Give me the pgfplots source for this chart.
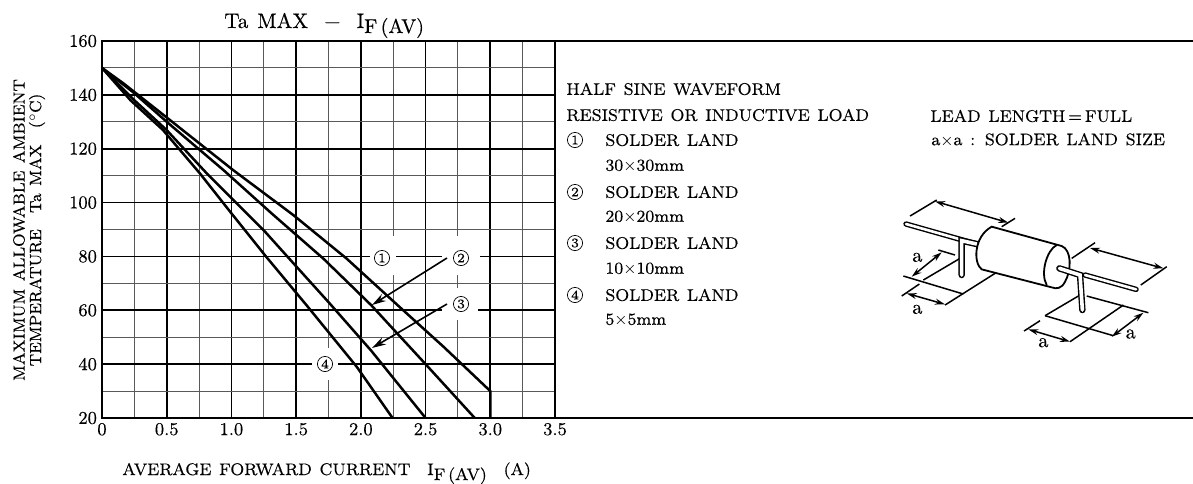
\documentclass[border=0pt]{standalone}
\usepackage{fontspec}
\usepackage{pgfplots}
\pgfplotsset{compat=1.18}
\usetikzlibrary{arrows.meta}
\setmainfont{Latin Modern Roman}[FakeBold=0.35]
\newfontfamily\mn{Latin Modern Roman}[WordSpace=1.3,FakeBold=0.35]
\newcommand{\tx}{\mn\fontsize{8.4}{10}\selectfont}
\newcommand{\ty}{\mn\fontsize{8.1}{10}\selectfont}
\newcommand{\cn}[1]{\tikz[baseline=(n.base)]\node[circle,draw,line width=0.35pt,inner sep=0pt,minimum size=7.6pt](n){\fontsize{6.5}{7}\selectfont #1};}
\begin{document}
\begin{tikzpicture}
\path[use as bounding box] (0,0) rectangle (596.5pt,-241.5pt);
\begin{axis}[
  at={(51pt,-209pt)}, anchor=south west, scale only axis,
  width=226.5pt, height=188.5pt,
  xmin=0, xmax=3.5, ymin=20, ymax=160,
  xtick={0,0.5,...,3.5}, ytick={20,40,...,160},
  xticklabels={0,0.5,1.0,1.5,2.0,2.5,3.0,3.5},
  minor x tick num=1, minor y tick num=1,
  grid=both,
  major grid style={black,line width=0.8pt},
  minor grid style={black!65,line width=0.55pt},
  axis line style={black,line width=1pt},
  tick style={draw=none}, minor tick style={draw=none},
  tick label style={font=\fontsize{9}{10}\selectfont},
  /pgf/number format/assume math mode=true,
  xticklabel style={yshift=1pt},
  yticklabel style={xshift=1pt},
  clip=false,
]
\addplot[black,line width=1.25pt] coordinates {(0,150)(0.165,144.3)(0.5,131.6)(1.015,112)(1.48,95.3)(1.89,79.2)(2.30,61.2)(2.64,46.4)(3.0,30)(3.0,20)};
\addplot[black,line width=1.25pt] coordinates {(0,150)(0.24,141)(0.5,130)(0.94,112)(1.31,96)(1.71,79.2)(2.08,61.9)(2.5,40)(2.88,20)};
\addplot[black,line width=1.25pt] coordinates {(0,150)(0.25,138)(0.5,126.9)(0.81,110.8)(1.25,89.7)(1.45,79)(1.76,62.5)(2.08,45)(2.5,20)};
\addplot[black,line width=1.25pt] coordinates {(0,150)(0.22,138)(0.47,127)(0.757,110.8)(0.99,96.6)(1.27,79.8)(1.58,61.9)(1.97,38.9)(2.245,20)};
\end{axis}
\begin{scope}[x=0.5pt,y=-0.5pt]
\draw[line width=1pt] (555,41)--(1193,41);
\draw[line width=1pt] (555,418)--(1193,418);
\node[anchor=base west,inner sep=0] at (224,28) {\mn\fontsize{10.5}{13}\selectfont Ta MAX\,\, −\,\, I\raisebox{-2.5pt}{\fontsize{10}{10}\selectfont F\,(AV)}};
\node[anchor=base west,inner sep=0] at (122,475) {\tx AVERAGE FORWARD CURRENT\quad I\raisebox{-2.5pt}{F\,(AV)}\quad (A)};
\node[rotate=90,inner sep=0] at (19,230) {\ty MAXIMUM ALLOWABLE AMBIENT};
\node[rotate=90,inner sep=0] at (37,230) {\ty TEMPERATURE\quad Ta MAX\quad ($^\circ$C)};
\fill[white] (370,236) rectangle (396,275);
\fill[white] (442,236) rectangle (480,275);
\fill[white] (442,288) rectangle (478,320);
\fill[white] (312,348) rectangle (338,380);
\node at (382,258) {\cn{1}};
\node at (461,258) {\cn{2}};
\node at (461,304) {\cn{3}};
\node at (325,364) {\cn{4}};
\draw[line width=0.8pt,-{Stealth[length=7pt,width=4pt]}] (447,258)--(372,305);
\draw[line width=0.8pt,-{Stealth[length=7pt,width=4pt]}] (447,304)--(372,348);
\foreach \y/\t in {89/HALF SINE WAVEFORM,115/RESISTIVE OR INDUCTIVE LOAD}
  \node[anchor=west,inner sep=0] at (566,\y) {\tx \t};
\foreach \y/\c in {140/1,192/2,243/3,295/4}
  \node at (575,\y) {\cn{\c}};
\foreach \y in {140,192,243,295}
  \node[anchor=west,inner sep=0] at (605,\y) {\tx SOLDER LAND};
\foreach \y/\t in {166/30,217/20,269/10}
  \node[anchor=west,inner sep=0] at (605,\y) {\tx \t$\times$\t mm};
\node[anchor=west,inner sep=0] at (605,320) {\tx 5$\times$5mm};
\node[anchor=west,inner sep=0] at (930,116) {\tx LEAD LENGTH$\,$=$\,$FULL};
\node[anchor=west,inner sep=0] at (931,140) {\tx a$\times$a : SOLDER LAND SIZE};
\end{scope}
\begin{scope}[shift={(440pt,-85pt)},x=0.1667pt,y=-0.1667pt,line width=0.75pt,
  ar/.style={{Stealth[length=5pt,width=3pt]}-{Stealth[length=5pt,width=3pt]}}]
\draw[line cap=round,line width=2.7pt] (78,162)--(290,222);
\draw[line cap=round,line width=1.3pt,white] (78,162)--(290,222);
\draw (90,138)--(170,90); \draw (365,170)--(405,145);
\draw[ar] (165,94)--(385,158);
\draw (70,318)--(250,372); \draw (130,330)--(240,265); \draw (195,405)--(345,310);
\draw (175,240)--(225,255);
\draw[ar] (95,320)--(185,247);
\draw (65,378)--(118,342);
\draw[ar] (80,370)--(195,403);
\draw[line cap=round,line width=3.2pt] (245,315)--(245,212)--(290,222);
\draw[line cap=round,line width=1.8pt,white] (245,315)--(245,212)--(290,222);
\filldraw[fill=white,line width=0.9pt] (335,170)--(545,228)
  .. controls (575,240) and (575,300) .. (555,335) .. controls (545,355) and (530,358) .. (515,352)
  --(305,298) .. controls (280,280) and (280,200) .. (335,170) -- cycle;
\draw[line width=0.9pt] (530,225) .. controls (500,240) and (480,310) .. (500,345);
\draw (575,265)--(645,218); \draw (782,345)--(860,290);
\draw[ar] (630,234)--(850,295);
\draw[line cap=round,line width=2.7pt] (615,315)--(768,358);
\draw[line cap=round,line width=1.3pt,white] (615,315)--(768,358);
\draw (620,378)--(805,428); \draw (495,437)--(700,497); \draw (495,437)--(600,375);
\draw (570,515)--(730,405);
\draw (432,483)--(480,452);
\draw[ar] (445,478)--(570,515);
\draw[ar] (695,500)--(790,428);
\draw[line cap=round,line width=3.2pt] (538,295)--(600,315)--(607,420);
\draw[line cap=round,line width=1.8pt,white] (538,295)--(600,315)--(607,420);
\foreach \p in {(112,262),(112,418),(490,518),(752,492)}
  \node[inner sep=0] at \p {\fontsize{10}{12}\selectfont a};
\end{scope}
\end{tikzpicture}
\end{document}
